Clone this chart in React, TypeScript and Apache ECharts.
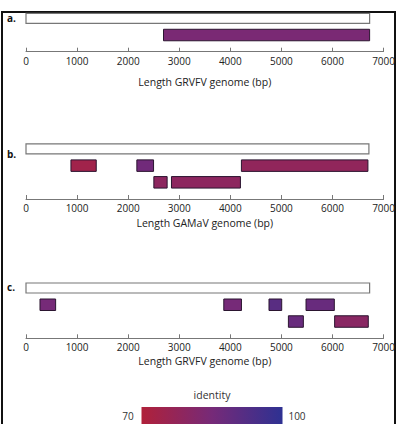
import React, { useEffect, useRef } from "react";
import * as echarts from "echarts";

// Genome lengths (bp) for the reference genome bar of each panel
const genomeLengths = [6727, 6713, 6727];
const axisTitles = ["Length GRVFV genome (bp)", "Length GAMaV genome (bp)", "Length GRVFV genome (bp)"];
const panelLabels = ["a.", "b.", "c."];
const xTicks = [0, 1000, 2000, 3000, 4000, 5000, 6000, 7000];

// Panel a hits
const aStart = [2692];
const aEnd = [6727];
const aRow = [1];
const aIdentity = [84];

// Panel b hits
const bStart = [880, 2170, 4217, 2503, 2848];
const bEnd = [1375, 2497, 6694, 2763, 4198];
const bRow = [1, 1, 1, 2, 2];
const bIdentity = [74, 86, 78, 79, 79];

// Panel c hits
const cStart = [274, 3872, 4757, 5482, 5137, 6042];
const cEnd = [580, 4218, 5006, 6036, 5430, 6701];
const cRow = [1, 1, 1, 1, 2, 2];
const cIdentity = [85, 85, 91, 88, 88, 80];

const identityMin = 70;
const identityMax = 100;
const identityColors = ["#b0213a", "#762a78", "#2e3192"];

const panels = [
  { start: aStart, end: aEnd, row: aRow, identity: aIdentity, maxRow: 2 },
  { start: bStart, end: bEnd, row: bRow, identity: bIdentity, maxRow: 3 },
  { start: cStart, end: cEnd, row: cRow, identity: cIdentity, maxRow: 3 },
];

export default function App() {
  const ref = useRef<HTMLDivElement>(null);
  useEffect(() => {
    if (!ref.current) return;
    const chart = echarts.init(ref.current, null, { renderer: "svg" });
    const grids = [
      { left: 26, width: 358, top: 10, height: 41.7 },
      { left: 26, width: 358, top: 140.6, height: 58.4 },
      { left: 26, width: 358, top: 279.6, height: 58.7 },
    ];
    const nameGaps = [25, 18, 17];
    const font = "'Open Sans', sans-serif";

    const xAxis = grids.map((_, i) => ({
      type: "value",
      gridIndex: i,
      min: xTicks[0],
      max: xTicks[xTicks.length - 1],
      interval: xTicks[1] - xTicks[0],
      position: "bottom",
      axisLine: { show: true, onZero: false, lineStyle: { color: "#777", width: 1 } },
      axisTick: { show: true, inside: true, length: 4, lineStyle: { color: "#777" } },
      axisLabel: { fontSize: 10, color: "#222", margin: 4, fontFamily: font, formatter: (v: number) => String(v) },
      splitLine: { show: false },
      name: axisTitles[i],
      nameLocation: "middle",
      nameGap: nameGaps[i],
      nameTextStyle: { fontSize: 10.5, color: "#222", fontFamily: font },
    }));
    const yAxis = grids.map((_, i) => ({
      type: "value",
      gridIndex: i,
      inverse: true,
      min: -0.5,
      max: panels[i].maxRow,
      show: false,
    }));

    const hitRender = (params: any, api: any) => {
      const s = api.coord([api.value(1), api.value(0)]);
      const e = api.coord([api.value(2), api.value(0)]);
      const h = 11.5;
      return {
        type: "rect",
        shape: { x: s[0], y: s[1] - h / 2, width: e[0] - s[0], height: h },
        style: { fill: api.visual("color"), stroke: "#2b1530", lineWidth: 1 },
      };
    };
    const genomeRender = (params: any, api: any) => {
      const s = api.coord([api.value(1), api.value(0)]);
      const e = api.coord([api.value(2), api.value(0)]);
      const h = 10;
      return {
        type: "rect",
        shape: { x: s[0], y: s[1] - h / 2, width: e[0] - s[0], height: h },
        style: { fill: "#ffffff", stroke: "#777", lineWidth: 1.2 },
      };
    };

    const series: any[] = [];
    const hitSeriesIdx: number[] = [];
    panels.forEach((p, i) => {
      series.push({
        type: "custom",
        xAxisIndex: i,
        yAxisIndex: i,
        renderItem: genomeRender,
        encode: { x: [1, 2], y: 0 },
        data: [[0, 0, genomeLengths[i]]],
        silent: true,
      });
      hitSeriesIdx.push(series.length);
      series.push({
        type: "custom",
        xAxisIndex: i,
        yAxisIndex: i,
        renderItem: hitRender,
        encode: { x: [1, 2], y: 0 },
        data: p.start.map((s, k) => [p.row[k], s, p.end[k], p.identity[k]]),
        silent: true,
      });
    });

    const stops = identityColors.map((c, k) => ({ offset: k / (identityColors.length - 1), color: c }));

    chart.setOption({
      animation: false,
      grid: grids,
      xAxis,
      yAxis,
      visualMap: {
        type: "continuous",
        show: false,
        min: identityMin,
        max: identityMax,
        dimension: 3,
        seriesIndex: hitSeriesIdx,
        inRange: { color: identityColors },
      },
      series,
      graphic: [
        {
          type: "rect",
          shape: { x: 2, y: 12, width: 393, height: 420 },
          style: { fill: "none", stroke: "#111", lineWidth: 2 },
          silent: true,
        },
        ...panelLabels.map((t, i) => ({
          type: "text",
          x: 7,
          y: [17.5, 154, 287][i],
          style: { text: t, fontSize: 10, fontWeight: "bold", fill: "#111", fontFamily: font, textVerticalAlign: "middle" },
        })),
        {
          type: "text",
          x: 212,
          y: 395,
          style: { text: "identity", fontSize: 10.5, fill: "#333", fontFamily: font, textAlign: "center", textVerticalAlign: "middle" },
        },
        {
          type: "rect",
          shape: { x: 141.5, y: 407, width: 141, height: 24 },
          style: { fill: new echarts.graphic.LinearGradient(0, 0, 1, 0, stops), stroke: "none" },
        },
        {
          type: "text",
          x: 128,
          y: 416,
          style: { text: String(identityMin), fontSize: 10, fill: "#333", fontFamily: font, textAlign: "center", textVerticalAlign: "middle" },
        },
        {
          type: "text",
          x: 297,
          y: 416,
          style: { text: String(identityMax), fontSize: 10, fill: "#333", fontFamily: font, textAlign: "center", textVerticalAlign: "middle" },
        },
      ],
    });
    return () => chart.dispose();
  }, []);
  return <div ref={ref} style={{ position: "fixed", left: 0, top: 0, width: 398, height: 424, background: "#fff" }} />;
}
